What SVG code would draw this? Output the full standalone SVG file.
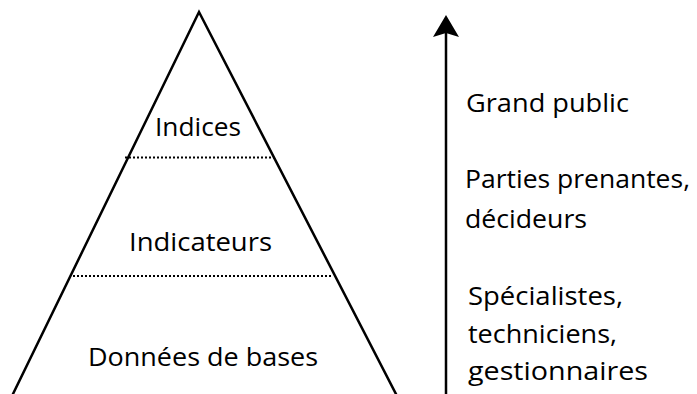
<svg xmlns="http://www.w3.org/2000/svg" width="697" height="394" viewBox="0 0 697 394">
<style>
.lbl{font-family:"Open Sans","Noto Sans","Liberation Sans",sans-serif;font-size:25px;fill:#000}
.edge{stroke:#000;stroke-width:2.5;fill:none}
.dot{stroke:#000;stroke-width:2;stroke-dasharray:2 2;fill:none}
</style>
<rect width="697" height="394" fill="#fff"/>
<g id="pyramid">
<polyline class="edge" points="12,396 199,12 397,396"/>
</g>
<g id="connectors">
<line class="dot" x1="125" y1="157.5" x2="274" y2="157.5"/>
<line class="dot" x1="73" y1="276" x2="333" y2="276"/>
<line x1="446" y1="394" x2="446" y2="30" stroke="#000" stroke-width="2.5"/>
<polygon points="446,15 459,37 446,33 433,37" fill="#000"/>
</g>
<g id="indices"><text class="lbl" x="155" y="136" textLength="86" lengthAdjust="spacingAndGlyphs">Indices</text></g>
<g id="indicateurs"><text class="lbl" x="129" y="251" textLength="143" lengthAdjust="spacingAndGlyphs">Indicateurs</text></g>
<g id="donnees"><text class="lbl" x="88" y="366" textLength="230" lengthAdjust="spacingAndGlyphs">Données de bases</text></g>
<g id="grand-public"><text class="lbl" x="466" y="112" textLength="163" lengthAdjust="spacingAndGlyphs">Grand public</text></g>
<g id="parties">
<text class="lbl" x="465" y="188" textLength="225" lengthAdjust="spacingAndGlyphs">Parties prenantes,</text>
<text class="lbl" x="465" y="228" textLength="122" lengthAdjust="spacingAndGlyphs">décideurs</text>
</g>
<g id="specialistes">
<text class="lbl" x="468" y="305" textLength="155" lengthAdjust="spacingAndGlyphs">Spécialistes,</text>
<text class="lbl" x="468" y="343" textLength="149" lengthAdjust="spacingAndGlyphs">techniciens,</text>
<text class="lbl" x="468" y="380" textLength="180" lengthAdjust="spacingAndGlyphs">gestionnaires</text>
</g>
</svg>
